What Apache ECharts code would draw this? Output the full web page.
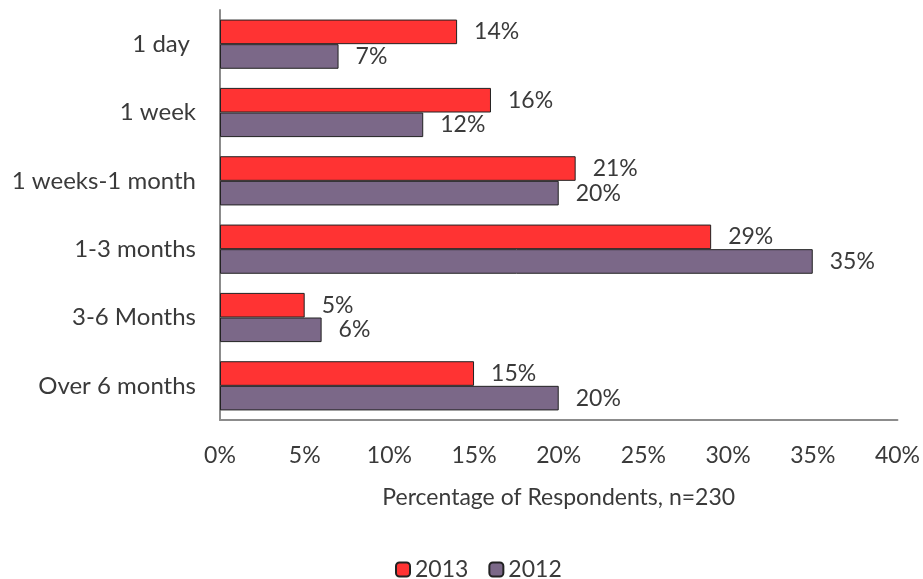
<!DOCTYPE html>
<html><head><meta charset="utf-8">
<script src="https://cdn.jsdelivr.net/npm/echarts@6/dist/echarts.min.js"></script>
<style>html,body{margin:0;padding:0;background:#fff}#c{width:923px;height:579px}</style>
</head><body><div id="c"></div>
<script>
const categories = ['1 day ', '1 week', '1 weeks-1 month', '1-3 months', '3-6 Months', 'Over 6 months'];
const values2013 = [14, 16, 21, 29, 5, 15];
const values2012 = [7, 12, 20, 35, 6, 20];
const seriesNames = ['2013', '2012'];
const xTicks = [0, 5, 10, 15, 20, 25, 30, 35, 40];

const font = 'Lato, sans-serif';
const txt = '#3a3a3a';
const chart = echarts.init(document.getElementById('c'));
const lbl = {show: true, position: 'right', distance: 17, formatter: p => p.value + '%', fontFamily: font, fontSize: 23, color: txt};
chart.setOption({
  animation: false,
  grid: {left: 220, right: 25, top: 10, bottom: 159},
  xAxis: {
    type: 'value', min: xTicks[0], max: xTicks[xTicks.length-1], interval: 5,
    axisLine: {show: true, lineStyle: {color: '#8c8c8c', width: 2}},
    axisTick: {show: false}, splitLine: {show: false},
    axisLabel: {formatter: '{value}%', fontFamily: font, fontSize: 23, color: txt, margin: 24},
    name: 'Percentage of Respondents, n=230', nameLocation: 'middle', nameGap: 66,
    nameTextStyle: {fontFamily: font, fontSize: 23, color: txt}
  },
  yAxis: {
    type: 'category', data: categories, inverse: true,
    axisLine: {show: true, lineStyle: {color: '#8c8c8c', width: 2}},
    axisTick: {show: false},
    axisLabel: {fontFamily: font, fontSize: 24, color: txt, margin: 24}
  },
  legend: {
    top: 553, left: 390, itemWidth: 14, itemHeight: 14, itemGap: 20,
    textStyle: {fontFamily: font, fontSize: 23, color: txt},
    data: seriesNames
  },
  series: [
    {name: seriesNames[0], type: 'bar', data: values2013, barCategoryGap: '28%', barGap: '0%',
     itemStyle: {color: '#FF3333', borderColor: '#222', borderWidth: 1}, label: lbl},
    {name: seriesNames[1], type: 'bar', data: values2012, barCategoryGap: '28%', barGap: '0%',
     itemStyle: {color: '#7B6888', borderColor: '#222', borderWidth: 1}, label: lbl}
  ]
});
</script></body></html>
